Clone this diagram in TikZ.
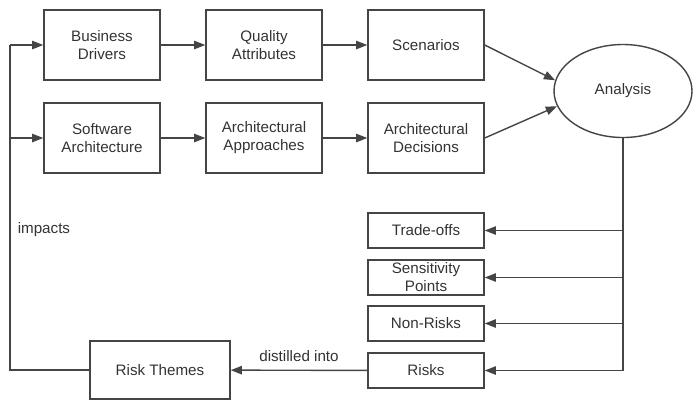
\documentclass[tikz,border=0pt]{standalone}
\usepackage{fontspec}
\setmainfont{Liberation Sans}
\usetikzlibrary{arrows.meta,positioning,calc,shapes.geometric}
\definecolor{inkgray}{HTML}{333333}
\definecolor{linegray}{HTML}{454545}

\begin{document}
\begin{tikzpicture}[font=\fontsize{10.8}{12.8}\selectfont,text=inkgray,
    abox/.style={draw=linegray,line width=1pt,minimum width=2.9cm,
                 minimum height=1.75cm,align=center,inner sep=0pt},
    sbox/.style={abox,minimum height=0.875cm},
    arr/.style={draw=linegray,line width=1pt,-{Triangle[length=8pt,width=6pt]}},
    ln/.style={draw=linegray,line width=1pt}]
  \useasboundingbox (0,0) rectangle (17.5,-10.175);
  % top two rows
  \node[abox] (bd) at (2.55,-1.125) {Business\\Drivers};
  \node[abox] (qa) at (6.6,-1.125)  {Quality\\Attributes};
  \node[abox] (sc) at (10.65,-1.125) {Scenarios};
  \node[abox] (sa) at (2.55,-3.45)  {Software\\Architecture};
  \node[abox] (aa) at (6.6,-3.45)   {Architectural\\Approaches};
  \node[abox] (ad) at (10.65,-3.45) {Architectural\\Decisions};
  \node[ellipse,draw=linegray,line width=1pt,minimum width=3.45cm,
        minimum height=2.325cm,inner sep=0pt] (an) at (15.575,-2.275) {Analysis};
  % outputs
  \node[sbox] (to) at (10.65,-5.7625) {Trade-offs};
  \node[sbox] (sp) at (10.65,-6.9375) {Sensitivity\\Points};
  \node[sbox] (nr) at (10.65,-8.0875) {Non-Risks};
  \node[sbox] (rk) at (10.65,-9.2625) {Risks};
  \node[abox,minimum width=3.5cm,minimum height=1.45cm] (rt) at (4.0,-9.25) {Risk Themes};
  \coordinate (fb) at (0.25,-1.125);

  \draw[arr] (bd) -- (qa);
  \draw[arr] (qa) -- (sc);
  \draw[arr] (sa) -- (aa);
  \draw[arr] (aa) -- (ad);
  \draw[arr] (sc.east) -- (an.171);
  \draw[arr] (ad.east) -- (an.193);

  \draw[arr] (an.south) |- (rk);
  \foreach \b in {to,sp,nr}
    \draw[arr] (an.south |- \b) -- (\b);
  \draw[arr] (rk) -- node[above=2pt] {distilled into} (rt);

  \draw[ln] (rt.west) -| (fb);
  \draw[arr] (fb) -- (bd);
  \draw[arr] (fb |- sa) -- (sa);
  \node[right=2pt] (imp) at (0.25,-5.75) {impacts};
\end{tikzpicture}
\end{document}
